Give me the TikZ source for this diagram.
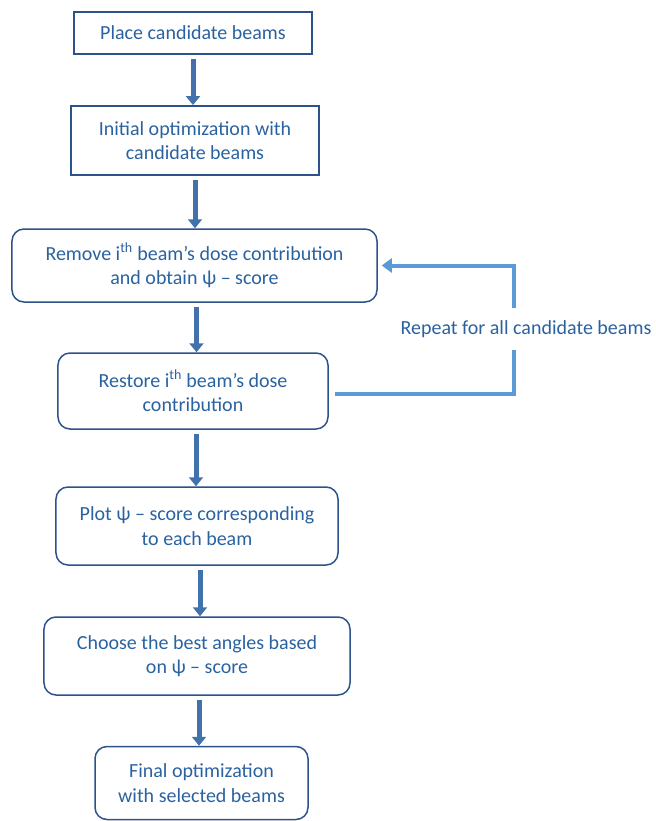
\documentclass[tikz,border=0pt]{standalone}
\usepackage{fontspec}
\setmainfont{Carlito}
\usetikzlibrary{arrows.meta,positioning,calc}
\definecolor{boxline}{RGB}{44,82,140}
\definecolor{txt}{RGB}{42,98,160}
\definecolor{arrfill}{RGB}{66,114,172}
\definecolor{loopc}{RGB}{91,155,213}
\tikzset{
  base/.style={draw=boxline, text=txt, align=center, inner sep=2bp,
    font=\fontsize{20bp}{24.5bp}\selectfont},
  sqbox/.style={base, line width=1.8bp},
  rbox/.style={base, line width=1.5bp, rounded corners=12bp},
  flow/.style={draw=arrfill, line width=5bp, shorten <=4bp,
    -{Triangle[width=14bp,length=9bp]}},
  loopline/.style={draw=loopc, line width=4bp},
  looparrow/.style={loopline, -{Triangle[width=14bp,length=10bp]}},
}
\begin{document}
\begin{tikzpicture}[x=1bp,y=-1bp]
\useasboundingbox (0,0) rectangle (656,821);
\node[sqbox, minimum width=238bp, minimum height=42bp] (b1) at (193,33) {Place candidate beams};
\node[sqbox, minimum width=248bp, minimum height=69bp] (b2) at (195,140.5) {Initial optimization with\\candidate beams};
\node[rbox, minimum width=365bp, minimum height=73bp] (b3) at (194.5,265.5) {Remove i\textsuperscript{th} beam’s dose contribution\\and obtain ψ – score};
\node[rbox, minimum width=270bp, minimum height=76bp] (b4) at (193,391) {Restore i\textsuperscript{th} beam’s dose\\contribution};
\node[rbox, minimum width=282bp, minimum height=78bp] (b5) at (197,526) {Plot ψ – score corresponding\\to each beam};
\node[rbox, minimum width=306bp, minimum height=78bp] (b6) at (197,656) {Choose the best angles based\\on ψ – score};
\node[rbox, minimum width=213bp, minimum height=73bp] (b7) at (201.5,783) {Final optimization\\with selected beams};
\node[base, draw=none, minimum height=42bp, inner ysep=0bp] (rep) at (526,329) {Repeat for all candidate beams};
\coordinate (lx) at (514,329);
\draw[flow] (b1.south) -- (b1.south |- b2.north);
\draw[flow] (b2.south) -- (b2.south |- b3.north);
\draw[flow] ([xshift=2bp]b3.south) -- ([xshift=2bp]b3.south |- b4.north);
\draw[flow] ([xshift=3bp]b4.south) -- ([xshift=3bp]b4.south |- b5.north);
\draw[flow] ([xshift=3bp]b5.south) -- ([xshift=3bp]b5.south |- b6.north);
\draw[flow] ([xshift=2bp]b6.south) -- ([xshift=2bp]b6.south |- b7.north);
\draw[loopline] ([xshift=6bp,yshift=-3bp]b4.east) -| (lx |- rep.south);
\draw[looparrow] (lx |- rep.north) |- ([xshift=4bp]b3.east);
\end{tikzpicture}
\end{document}
